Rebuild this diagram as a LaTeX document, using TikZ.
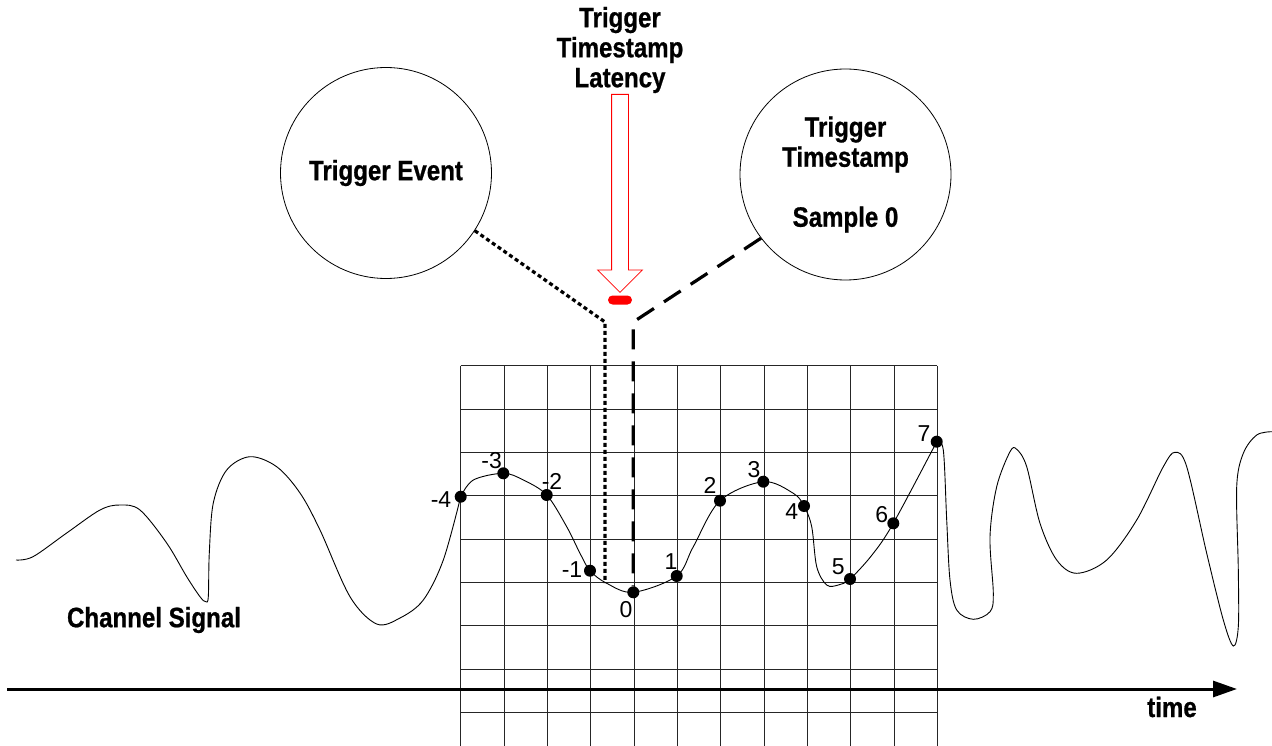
\documentclass[tikz,border=0pt]{standalone}
\usepackage{fontspec}
\setmainfont{Liberation Sans}
\newfontfamily\lblfont{Liberation Sans}[FakeStretch=0.86,BoldFeatures={FakeBold=0.8}]
\usetikzlibrary{arrows.meta,positioning,shapes.arrows}

\begin{document}
\begin{tikzpicture}[x=1pt,y=-1pt,>=Latex]
\tikzstyle{lbl}=[font=\lblfont\bfseries\fontsize{28}{30}\selectfont,align=center,inner sep=0pt]
\tikzstyle{evt}=[lbl,draw,circle,minimum size=211pt,line width=0.8pt]
\tikzstyle{smp}=[circle,fill=black,minimum size=12pt,inner sep=0pt]
\tikzstyle{num}=[font=\fontsize{23}{23}\selectfont,inner sep=0pt]
\tikzstyle{gridline}=[line width=1pt,black!85]
\tikzstyle{dotline}=[line width=3.2pt,dash pattern=on 4pt off 3pt]
\tikzstyle{dashline}=[line width=3.2pt,dash pattern=on 20pt off 12pt]
\tikzstyle{latarrow}=[single arrow,draw=red,fill=white,rotate=-90,minimum height=198pt,inner sep=8pt,single arrow head extend=14pt,single arrow tip angle=90,line width=0.8pt]
\useasboundingbox (0,0) rectangle (1272,746);

% sampling grid
\foreach \i in {0,...,11}
  \draw[gridline] ({460.7+43.33*\i},365.7) -- ({460.7+43.33*\i},746);
\foreach \j in {0,...,8}
  \draw[gridline] (460.7,{365.7+43.33*\j}) -- (936.7,{365.7+43.33*\j});

% channel signal
\draw[line width=0.9pt] plot[smooth,tension=0.55] coordinates {(16,560) (33,556.7) (66.7,533) (100,510) (120,505) (140,510) (166.7,543) (186.7,576.7) (200,596.7) (205.7,601.7) (208.3,596.7) (209.3,553) (213.3,503) (226.7,470) (250,456.7) (276.7,466.7) (300,493) (320,530) (350,596.7) (376.7,624) (400,618) (423.3,600) (443.3,560) (460.7,496.7)};
\draw[line width=0.9pt] plot[smooth,tension=0.55] coordinates {(460.7,496.7) (473.3,480) (503.3,473.3) (523.3,480) (546.7,495) (566.7,526.7) (580,553.3) (590,570.7) (606.7,583.3) (633.3,592.3) (676.7,576) (693.3,546.7) (720,500.7) (763.3,481.7) (793.3,493.3) (804,506) (811.7,526.7) (816.7,566.7) (826.7,585) (838.3,585) (850,579) (872,555) (893.3,523.3) (936.7,441.7)};
\draw[line width=0.9pt] plot[smooth,tension=0.55] coordinates {(936.7,441.7) (943.3,450) (946.7,520) (950,580) (956.7,610) (973.3,619.3) (990,611.7) (993.3,593.3) (990,536.7) (996.7,486.7) (1010,451.7) (1016.7,449.3) (1026.7,466.7) (1040,523.3) (1056.7,560) (1076.7,573.3) (1106.7,560) (1136.7,520) (1163.3,466.7) (1175,452.3) (1186.7,466.7) (1206.7,553.3) (1223.3,620) (1233.3,646) (1238.3,626.7) (1238.3,570) (1236.7,486.7) (1243.3,453.3) (1256.7,435) (1272,431.7)};

% samples
\foreach \nm/\t/\px/\py/\lx/\ly in {m4/-4/460.7/496.7/441/500, m3/-3/503.3/473.3/491.7/461, m2/-2/546.7/495/552/481.7, m1/-1/590/570.7/572/570, 0/0/633.3/592.3/626/610, 1/1/676.7/576/671/561.7, 2/2/720/500.7/710/485, 3/3/763.3/481.7/754/470, 4/4/804/506/791.7/511.7, 5/5/850/579/838.3/566.7, 6/6/893.3/523.3/881.7/515, 7/7/936.7/441.7/924/433.3}
{
  \node[smp] (s\nm) at (\px,\py) {};
  \node[num] (l\nm) at (\lx,\ly) {\t};
}

% events
\node[evt] (te) at (386,173) {Trigger Event};
\node[evt] (ts) at (845.5,174.5) {Trigger\\Timestamp\\ \\Sample 0};
\node[lbl] (lat) at (620,50) {Trigger\\Timestamp\\Latency};
\node[latarrow,anchor=tail] (latarr) at (620,94) {};
\node[fill=red,rounded corners=4.5pt,minimum width=24pt,minimum height=9pt,inner sep=0pt] (latmark) at (620,300) {};

\coordinate (tebend) at (605,322);
\coordinate (teend) at (605,583);
\coordinate (tsbend) at (633.3,322);
\draw[dotline] (te.-33) -- (tebend) -- (teend);
\draw[dashline] (ts.217) -- (tsbend) -- (s0);

% time axis
\coordinate (t0) at (7,689);
\coordinate (t1) at (1237,689);
\draw[line width=3pt,-{Triangle[length=24pt,width=16pt]}] (t0) -- (t1);
\node[lbl] (time) at (1172,707) {time};
\node[lbl] (chsig) at (154,620) {Channel Signal};
\end{tikzpicture}
\end{document}
